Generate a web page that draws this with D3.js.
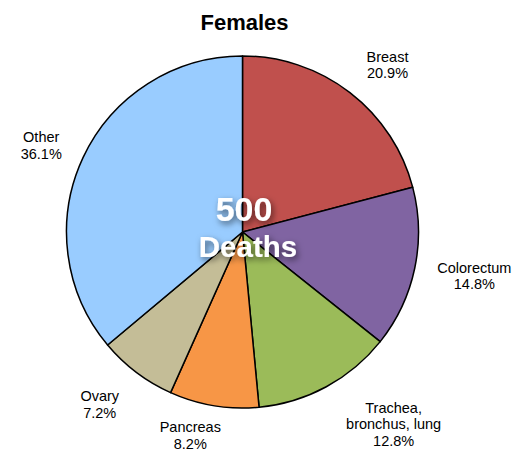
<!DOCTYPE html>
<html>
<head>
<meta charset="utf-8">
<script src="https://cdn.jsdelivr.net/npm/d3@7"></script>
<style>
  html, body { margin: 0; padding: 0; background: #fff; }
  svg { display: block; }
  text { font-family: "Liberation Sans", Arial, Helvetica, sans-serif; }
</style>
</head>
<body>
<svg id="chart" width="531" height="451"></svg>
<script>
// ---- data ----
const categories = ["Breast", "Colorectum", "Trachea, bronchus, lung", "Pancreas", "Ovary", "Other"];
const labelLines = [["Breast"], ["Colorectum"], ["Trachea,", "bronchus, lung"], ["Pancreas"], ["Ovary"], ["Other"]];
const values = [20.9, 14.8, 12.8, 8.2, 7.2, 36.1];
const colors = ["#C0504D", "#8064A2", "#9BBB59", "#F79646", "#C4BD97", "#99CCFF"];
const title = "Females";
const totalDeaths = "500";
const totalLabel = "Deaths";

// ---- layout (label placement, polar around pie center) ----
const labelAngleDeg = [41.0, 100.8, 141.8, 194.4, 219.6, 293.2];
const labelRadius = [221, 236, 244.4, 210, 224, 219];

const W = 531, H = 451;
const cx = 242.5, cy = 232, R = 176;
const svg = d3.select("#chart");

const defs = svg.append("defs");
const f = defs.append("filter").attr("id", "shadow")
  .attr("x", "-30%").attr("y", "-30%").attr("width", "160%").attr("height", "160%");
f.append("feDropShadow").attr("dx", 2).attr("dy", 3).attr("stdDeviation", 3)
  .attr("flood-color", "#000").attr("flood-opacity", 0.55);

svg.append("text")
  .attr("x", 244.5).attr("y", 30)
  .attr("text-anchor", "middle")
  .attr("font-size", 22).attr("font-weight", "bold").attr("fill", "#000")
  .text(title);

const pie = d3.pie().sort(null).value(d => d)
  .startAngle(0).endAngle(2 * Math.PI);
const arcs = pie(values);
const arc = d3.arc().innerRadius(0).outerRadius(R);

const g = svg.append("g").attr("transform", `translate(${cx},${cy})`);
g.selectAll("path.slice").data(arcs).enter().append("path")
  .attr("class", "slice")
  .attr("d", arc)
  .attr("fill", (d, i) => colors[i])
  .attr("stroke", "#000").attr("stroke-width", 1.5)
  .attr("stroke-linejoin", "round");

// labels
const fmt = v => v.toFixed(1) + "%";
const lineH = 16.5;
arcs.forEach((d, i) => {
  const a = labelAngleDeg[i] * Math.PI / 180;
  const x = Math.sin(a) * labelRadius[i];
  const y = -Math.cos(a) * labelRadius[i];
  const lines = labelLines[i].concat([fmt(values[i])]);
  const n = lines.length;
  const t = g.append("text")
    .attr("text-anchor", "middle")
    .attr("font-size", 14.5).attr("fill", "#000");
  lines.forEach((ln, k) => {
    t.append("tspan")
      .attr("x", x)
      .attr("y", y - (n - 1) * lineH / 2 + k * lineH + 5)
      .text(ln);
  });
});

// center total
g.append("text")
  .attr("x", 1.5).attr("y", 220.7 - cy)
  .attr("text-anchor", "middle")
  .attr("font-size", 34).attr("font-weight", "bold").attr("fill", "#fff")
  .attr("filter", "url(#shadow)")
  .text(totalDeaths);
g.append("text")
  .attr("x", 5.5).attr("y", 257 - cy)
  .attr("text-anchor", "middle")
  .attr("font-size", 29.5).attr("font-weight", "bold").attr("fill", "#fff")
  .attr("filter", "url(#shadow)")
  .text(totalLabel);
</script>
</body>
</html>
